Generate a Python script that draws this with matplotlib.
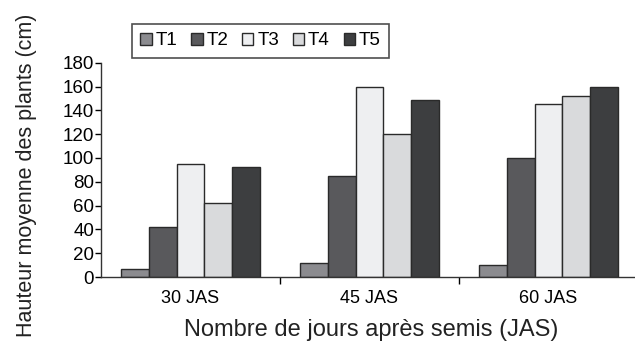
import numpy as np
import matplotlib.pyplot as plt
from matplotlib.ticker import FixedLocator

plt.rcParams['font.family'] = ['Liberation Sans', 'DejaVu Sans']

categories = ["30 JAS", "45 JAS", "60 JAS"]
treatments = ["T1", "T2", "T3", "T4", "T5"]
t1 = [7, 12, 10]
t2 = [42, 85, 100]
t3 = [95, 160, 145]
t4 = [62, 120, 152]
t5 = [92, 149, 160]
series = [t1, t2, t3, t4, t5]
colors = ["#8b8b8f", "#59595c", "#eeeff1", "#d9dadc", "#3d3e40"]

fig = plt.figure(figsize=(6.35, 3.47), dpi=100)
ax = fig.add_axes([0.159, 0.2017, 0.8457, 0.6176])

x = np.arange(len(categories))
w = 0.156
for i, (name, vals) in enumerate(zip(treatments, series)):
    ax.bar(x + (i - 2) * w, vals, w, color=colors[i], edgecolor="#2a2a2a",
           linewidth=1.0, label=name)

ax.set_xlim(-0.5, 2.5)
ax.set_ylim(0, 180)
ax.set_yticks(range(0, 181, 20))
ax.set_xticks(x)
ax.set_xticklabels(categories)
ax.xaxis.set_minor_locator(FixedLocator([0.5, 1.5]))
ax.tick_params(axis="x", which="major", length=0, labelsize=13, pad=9)
ax.tick_params(axis="x", which="minor", length=5, width=1, direction="out")
ax.tick_params(axis="y", length=4, width=1, direction="out", labelsize=13.5, pad=1)
for s in ["top", "right"]:
    ax.spines[s].set_visible(False)
for s in ["left", "bottom"]:
    ax.spines[s].set_color("#333333")
    ax.spines[s].set_linewidth(1.0)

fig.text(0.584, 0.048, "Nombre de jours après semis (JAS)", ha="center",
         va="center", fontsize=17, color="#222222")
fig.text(0.041, 0.494, "Hauteur moyenne des plants (cm)", ha="center",
         va="center", rotation=90, fontsize=15.5, color="#222222")

leg = fig.legend(loc="upper left", bbox_to_anchor=(0.2079, 0.931), ncol=5,
                 fontsize=13.5, frameon=True, fancybox=False,
                 handlelength=0.6, handleheight=0.6, handletextpad=0.2,
                 columnspacing=0.75, borderpad=0.45, borderaxespad=0)
leg.get_frame().set_edgecolor("#222222")
leg.get_frame().set_linewidth(1.2)

fig.savefig("out.png", dpi=100)
